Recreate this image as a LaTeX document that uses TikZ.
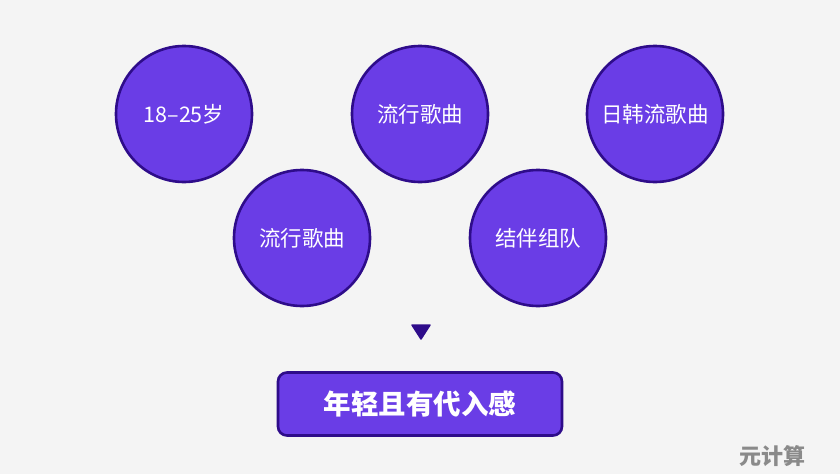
\documentclass[tikz,border=0pt]{standalone}
\usepackage{fontspec}
\setmainfont{Noto Sans CJK SC}
\definecolor{bg}{HTML}{F4F4F4}
\definecolor{fillp}{HTML}{6A3DE6}
\definecolor{edgep}{HTML}{2E0C8A}
\definecolor{wm}{HTML}{8A8A8A}
\begin{document}
\begin{tikzpicture}[x=1pt,y=-1pt,
  bubble/.style={circle,draw=edgep,line width=2.6pt,fill=fillp,minimum size=136pt,inner sep=0pt,text=white,font=\fontsize{21.5}{25}\selectfont},
  resultbox/.style={draw=edgep,line width=2.6pt,fill=fillp,rounded corners=9pt,minimum width=284pt,minimum height=63pt,inner sep=0pt,text=white,font=\fontsize{27.5}{32}\selectfont\bfseries},
  arrowtri/.style={fill=edgep,draw=edgep,line width=1.5pt,line join=round}]
\fill[bg] (0,0) rectangle (840,474);
\useasboundingbox (0,0) rectangle (840,474);
\node[bubble] (c1) at (184,114) {18–25岁};
\node[bubble] (c2) at (420,114) {流行歌曲};
\node[bubble] (c3) at (655,114) {日韩流歌曲};
\node[bubble] (c4) at (302,238) {流行歌曲};
\node[bubble] (c5) at (538,238) {结伴组队};
\coordinate (t1) at (412,325);
\coordinate (t2) at (430,325);
\coordinate (t3) at (421,339);
\fill[arrowtri] (t1) -- (t2) -- (t3) -- cycle;
\node[resultbox] (res) at (420,404) {年轻且有代入感};
\node[text=wm,font=\fontsize{22}{26}\selectfont\bfseries,anchor=east] (wmk) at (809,456) {元计算};
\end{tikzpicture}
\end{document}
